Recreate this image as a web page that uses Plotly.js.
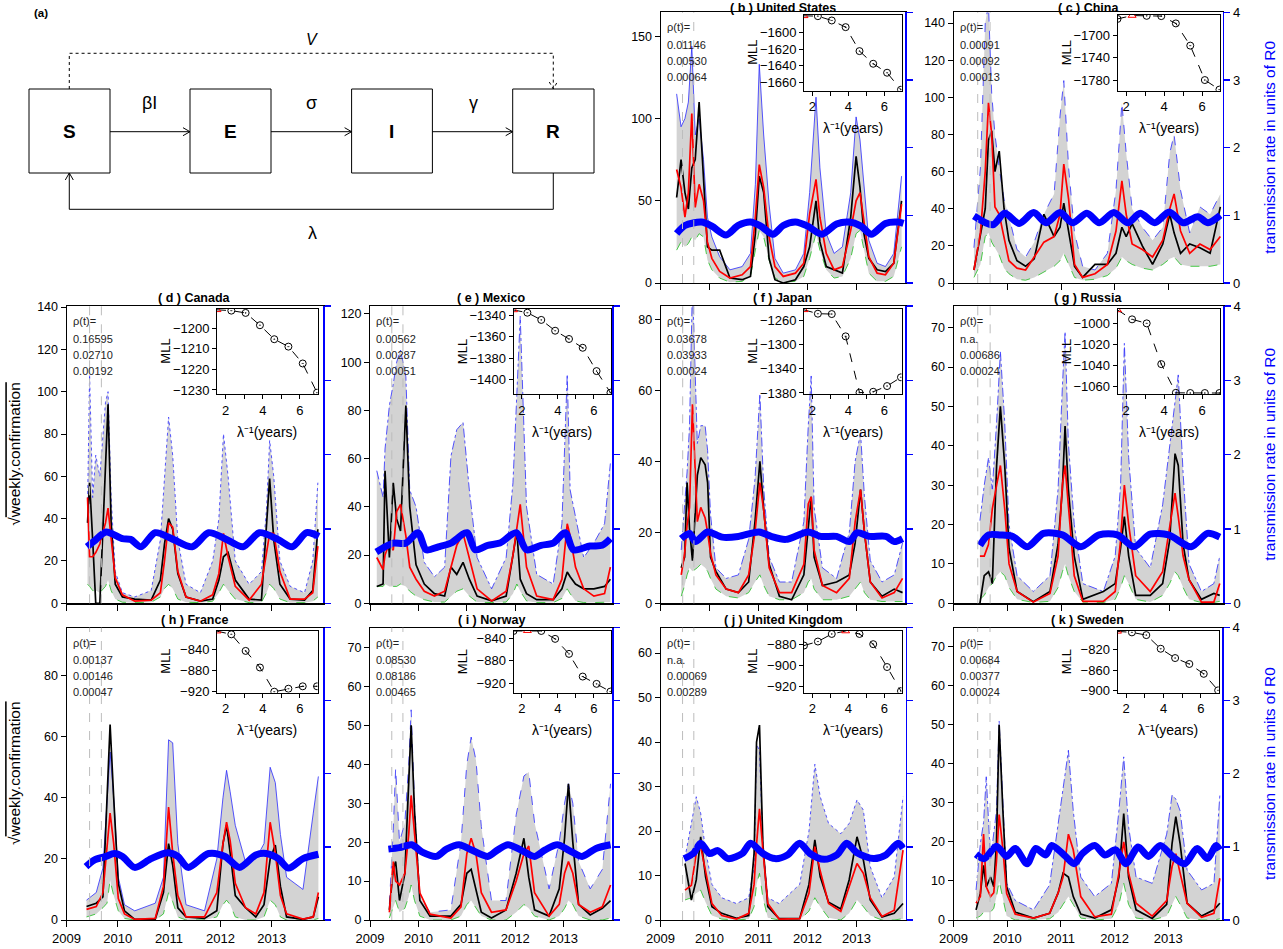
<!DOCTYPE html>
<html><head><meta charset="utf-8">
<script src="https://cdn.plot.ly/plotly-3.0.1.min.js"></script>
<style>html,body{margin:0;padding:0;background:#fff;}#chart{width:1283px;height:949px;}</style>
</head><body><div id="chart"></div>
<script>
// ---------------- DATA ----------------
const yearTicks = [2009, 2010, 2011, 2012, 2013];
const eventLines = [2009.45, 2009.68];
const lambdaInv = [1.54, 2.31, 3.08, 3.85, 4.62, 5.38, 6.15, 6.92];

// (b) United States
const tUS = [2009.33,2009.42,2009.50,2009.57,2009.64,2009.71,2009.79,2009.88,2009.96,2010.05,2010.21,2010.42,2010.67,2010.84,2010.94,2011.02,2011.11,2011.22,2011.34,2011.51,2011.76,2011.93,2012.05,2012.18,2012.26,2012.39,2012.55,2012.72,2012.89,2013.00,2013.08,2013.16,2013.26,2013.43,2013.60,2013.77,2013.93];
const obsUS = [52,75,55,45,70,75,110,62,22,20,20,3,2,4,30,65,55,15,2,0,2,10,22,50,25,10,8,6,40,77,58,30,15,8,7,12,50];
const medUS = [69,58,40,55,103,46,60,50,25,15,7,3,5,10,40,72,58,28,10,4,6,12,42,63,40,18,8,10,32,50,55,38,16,6,5,12,48];
const loUS = [20,25,22,24,28,26,30,28,14,8,3,0.5,1,4,20,32,28,14,3,0.5,1,4,15,30,20,8,3,4,15,30,32,20,6,1,1,4,22];
const hiUS = [115,95,100,110,144,90,100,75,40,28,16,8,10,18,60,133,90,48,15,6,8,18,55,113,70,30,18,22,55,101,87,60,26,12,10,18,65];
const tbUS = [2009.33,2009.50,2009.84,2010.05,2010.34,2010.59,2010.84,2011.05,2011.30,2011.51,2011.76,2012.01,2012.30,2012.60,2012.85,2013.10,2013.31,2013.60,2013.85,2013.97];
const betaUS = [0.73,0.85,0.9,0.84,0.71,0.85,0.9,0.84,0.72,0.85,0.9,0.84,0.72,0.87,0.9,0.84,0.72,0.88,0.9,0.88];
const mllUS = [-1580,-1580.4,-1585.6,-1593.6,-1622.4,-1637.6,-1648.4,-1668.8];
const rhoUS = ['0.01146','0.00530','0.00064'];

// (c) China
const tCN = [2009.38,2009.50,2009.59,2009.65,2009.71,2009.77,2009.85,2009.94,2010.03,2010.18,2010.34,2010.50,2010.68,2010.87,2010.98,2011.05,2011.14,2011.25,2011.40,2011.63,2011.86,2012.02,2012.13,2012.21,2012.32,2012.51,2012.70,2012.89,2013.02,2013.10,2013.22,2013.39,2013.58,2013.77,2013.96];
const obsCN = [7,27,40,77,82,60,71,40,23,12,9,13,37,25,30,43,27,9,3,10,10,16,30,25,32,20,10,21,37,27,16,21,19,16,41];
const medCN = [7,27,60,97,80,41,37,25,12,8,7,14,22,25,37,64,45,10,3,5,10,28,55,37,21,18,14,23,40,48,28,16,21,18,25];
const loCN = [3,10,25,27,22,19,15,8,5,2,1.5,3,6,9,12,16,10,3,1.5,2,4,8,14,12,10,8,7,10,13,14,10,9,9,9,10];
const hiCN = [19,62,140,150,102,80,62,45,36,18,14,22,37,48,90,109,62,27,9,7,16,50,97,70,40,30,23,30,70,80,50,27,41,37,48];
const tbCN = [2009.38,2009.73,2009.95,2010.22,2010.49,2010.72,2010.98,2011.21,2011.48,2011.71,2011.98,2012.24,2012.47,2012.74,2013.01,2013.27,2013.54,2013.73,2013.96];
const betaCN = [0.99,0.86,1.03,0.88,1.04,0.89,1.04,0.89,1.03,0.89,1.04,0.89,1.03,0.89,1.05,0.89,0.98,0.89,1.0];
const mllCN = [-1671,-1665,-1665.5,-1666,-1679,-1718.6,-1780,-1797];
const rhoCN = ['0.00091','0.00092','0.00013'];

// (d) Canada
const tCA = [2009.41,2009.45,2009.51,2009.57,2009.65,2009.76,2009.81,2009.87,2009.95,2010.09,2010.33,2010.65,2010.83,2010.91,2010.99,2011.07,2011.17,2011.33,2011.61,2011.85,2011.97,2012.06,2012.15,2012.29,2012.56,2012.80,2012.90,2012.96,2013.04,2013.16,2013.36,2013.64,2013.80,2013.90];
const obsCA = [38,57,30,0,0,60,94,38,9,3,2,1.5,11,28,40,35,14,3,1,2,11,22,24,11,2,1.5,38,59,30,9,2,1.5,6,35];
const medCA = [50,22,22,24,28,38,45,30,12,4,1,1.5,5,20,38,36,15,3,1,4,14,33,22,8,1.5,9,25,33,33,15,2,2,5,27];
const loCA = [9,8,6,6,5,8,11,6,2,0.5,0.3,0.5,3,7,9,7,2,0.5,0.3,1,5,9,6,2,0.3,0.5,5,9,7,2,0.3,0.3,1,3];
const hiCA = [46,108,50,70,60,95,100,50,15,5,3,6,30,60,88,70,30,9,5,20,40,80,60,20,9,15,45,77,60,20,8,5,20,57];
const tbCA = [2009.40,2009.53,2009.77,2010.09,2010.25,2010.45,2010.73,2011.05,2011.45,2011.77,2012.09,2012.44,2012.76,2013.12,2013.40,2013.68,2013.92];
const betaCA = [0.76,0.83,0.96,0.87,0.86,0.76,0.95,0.87,0.76,0.95,0.87,0.76,0.95,0.86,0.76,0.95,0.9];
const mllCA = [-1191,-1191.4,-1192.5,-1198.5,-1205.3,-1208.9,-1217.1,-1231.3];
const rhoCA = ['0.16595','0.02710','0.00192'];

// (e) Mexico
const tMX = [2009.14,2009.27,2009.31,2009.40,2009.48,2009.55,2009.63,2009.74,2009.82,2009.95,2010.12,2010.33,2010.54,2010.67,2010.79,2010.92,2011.05,2011.21,2011.51,2011.81,2011.95,2012.03,2012.10,2012.23,2012.44,2012.78,2012.96,2013.07,2013.13,2013.24,2013.41,2013.62,2013.84,2013.96];
const obsMX = [7,8,55,19,50,35,30,82,40,16,8,4,3,15,12,17,10,3,1,3,20,30,10,4,1.5,1.5,6,13,11,8,6,6,7,10];
const medMX = [19,14,20,25,22,38,41,28,15,10,5,3,5,15,24,29,19,6,1,5,20,32,41,15,3,1.5,10,33,28,15,6,3,4,15];
const loMX = [7,7,8,7,7,7,8,7,5,3,1.5,0.5,0.5,3,5,6,3,0.5,0.3,0.5,4,8,5,1,0.3,0.3,2,6,4,1,0.3,0.3,0.5,0.5];
const hiMX = [55,44,64,82,91,100,105,94,47,40,17,11,15,61,72,75,47,19,6,19,50,85,119,40,12,8,33,95,47,36,19,25,33,58];
const tbMX = [2009.13,2009.31,2009.48,2009.74,2009.99,2010.16,2010.41,2010.67,2011.0,2011.17,2011.43,2011.68,2012.02,2012.23,2012.53,2012.78,2013.03,2013.20,2013.54,2013.79,2013.96];
const betaMX = [0.69,0.76,0.81,0.81,0.95,0.72,0.76,0.81,0.95,0.72,0.78,0.81,0.95,0.72,0.78,0.81,0.95,0.72,0.77,0.78,0.87];
const mllMX = [-1334.6,-1337.2,-1344,-1354.2,-1362,-1370.3,-1392.3,-1412.7];
const rhoMX = ['0.00562','0.00287','0.00051'];

// (f) Japan
const tJP = [2009.42,2009.49,2009.54,2009.59,2009.65,2009.75,2009.82,2009.91,2009.96,2010.02,2010.13,2010.34,2010.59,2010.80,2010.93,2011.03,2011.11,2011.22,2011.43,2011.68,2011.93,2012.02,2012.08,2012.14,2012.31,2012.60,2012.86,2012.98,2013.09,2013.17,2013.29,2013.53,2013.78,2013.95];
const obsJP = [10,13,34,21,12,36,41,39,34,13,9,4,3,6,23,40,26,11,2,1,8,20,30,13,5,6,8,17,32,20,6,2,4,3];
const medJP = [8,14,22,27,56,23,27,24,20,14,8,4,3,8,20,34,26,10,3,3,11,28,30,15,5,3,7,23,32,20,6,1.5,3,7];
const loJP = [2,5,8,10,9,10,11,10,9,7,4,2,1.5,3,6,8,5,2,1,1,3,6,7,4,1,1,2,4,6,3,1,0.5,0.5,0.5];
const hiJP = [15,28,37,50,90,45,50,50,43,25,10,7,8,18,35,59,32,13,6,6,23,50,64,27,10,7,20,40,48,30,12,6,8,17];
const tbJP = [2009.42,2009.59,2009.71,2009.96,2010.26,2010.59,2011.01,2011.26,2011.56,2012.02,2012.27,2012.60,2012.86,2013.02,2013.27,2013.61,2013.78,2013.95];
const betaJP = [0.87,0.94,0.83,0.96,0.89,0.9,0.96,0.9,0.86,0.96,0.9,0.9,0.83,0.95,0.9,0.9,0.83,0.87];
const mllJP = [-1242,-1248.4,-1249,-1286,-1379.5,-1378,-1368.5,-1354];
const rhoJP = ['0.03678','0.03933','0.00024'];

// (g) Russia
const tRU = [2009.49,2009.57,2009.65,2009.72,2009.80,2009.87,2009.95,2010.03,2010.18,2010.48,2010.79,2010.94,2011.02,2011.07,2011.13,2011.24,2011.40,2011.78,2012.00,2012.10,2012.17,2012.25,2012.38,2012.65,2012.88,2013.01,2013.11,2013.17,2013.26,2013.37,2013.60,2013.83,2013.94];
const obsRU = [0,7,8,5,35,50,35,14,3,0.4,3,15,29,45,29,12,1,3,5,14,22,12,2,2,5,16,38,35,15,6,1,2.5,2];
const medRU = [12,12,15,24,30,35,24,10,3,0.3,2.5,12,30,35,25,7,0.5,0.5,3,16,30,20,7,3,8,20,28,22,12,6,0.3,0.3,5];
const loRU = [1,2,4,5,7,8,7,4,1,0.2,0.5,4,8,10,7,3,0.3,0.2,1,4,7,5,1,0.3,2,5,8,7,4,1,0.2,0.2,0.5];
const hiRU = [21,30,37,29,46,64,46,20,7,3,7,29,55,69,41,20,5,3,12,30,66,37,14,9,25,40,50,58,33,10,3,5,12];
const tbRU = [2009.49,2009.65,2009.87,2010.10,2010.37,2010.67,2011.02,2011.36,2011.70,2012.04,2012.35,2012.65,2012.99,2013.41,2013.71,2013.94];
const betaRU = [0.78,0.92,0.92,0.9,0.76,0.94,0.92,0.76,0.92,0.92,0.76,0.93,0.92,0.76,0.94,0.89];
const mllRU = [-987.3,-996.2,-1000,-1038.6,-1065.8,-1066,-1066,-1066];
const rhoRU = ['n.a.','0.00686','0.00024'];

// (h) France
const tFR = [2009.39,2009.58,2009.71,2009.79,2009.85,2009.92,2010.01,2010.13,2010.33,2010.73,2010.89,2010.99,2011.07,2011.17,2011.33,2011.69,2011.93,2012.05,2012.12,2012.19,2012.29,2012.49,2012.69,2012.85,2012.97,2013.07,2013.17,2013.29,2013.61,2013.81,2013.91];
const obsFR = [4.4,5.5,7.6,39,64,40,12,3,0.2,0.3,9,25,18,4,1,0.5,3,25,31,22,8,4,1,5,20,24.5,11,1,0.2,1,7.6];
const medFR = [3.5,4.4,9,25,35,25,7,2,0.2,0.5,11,37,22,8,1,1,9,25,32,26,12,4,2,9,32,22,8,2,0.3,1,9];
const loFR = [1,2,4,5.5,13,8,3,0.5,0,0,2,9,6,1,0,0,1,5,6.5,5,1,0,0,1,6.5,5,1,0,0,0,0.5];
const hiFR = [6.5,9,17,40,55,40,14,5,3,5.5,14,59,58,25,5,3,20,40,49,42,31,19,20,25,50,45,28,14,10,35,47];
const tbFR = [2009.38,2009.54,2009.77,2009.93,2010.09,2010.33,2010.65,2010.97,2011.17,2011.37,2011.77,2012.09,2012.37,2012.69,2012.89,2013.13,2013.33,2013.61,2013.91];
const betaFR = [0.73,0.82,0.87,0.91,0.87,0.72,0.84,0.92,0.87,0.72,0.91,0.87,0.72,0.89,0.91,0.84,0.71,0.84,0.9];
const mllFR = [-806,-812,-843.6,-875.2,-921.3,-915.6,-911,-911];
const rhoFR = ['0.00137','0.00146','0.00047'];

// (i) Norway
const tNO = [2009.40,2009.48,2009.53,2009.61,2009.72,2009.80,2009.85,2009.92,2010.03,2010.24,2010.67,2010.88,2011.00,2011.09,2011.19,2011.30,2011.51,2011.81,2012.02,2012.18,2012.28,2012.40,2012.70,2012.91,2013.02,2013.10,2013.19,2013.31,2013.55,2013.80,2013.97];
const obsNO = [2.6,13,15,5,12,37,50,28,5,1,1,4,12,13,8,2,0.5,2.6,12,21,11,2.6,1,8,21,35,20,4,1.3,3,5];
const medNO = [2,15,10,9,12,22,32,22,7,1.5,0.5,3.4,17,21,17,7,2,2.6,10,17,19,7,1,4,12,15,12,4,2,3.4,9];
const loNO = [0.5,3,5,2,3,6,9,5,1,0,0,1,4,5,3,1,0,0,2,4,3,1,0,1,3,5,4,1,0,0,0.5];
const hiNO = [4,23,39,20,25,40,54,30,6,2,2.6,20,40,47,41,24,5,5,27,37,38,25,8,20,30,35,30,15,8,13,35];
const tbNO = [2009.38,2009.61,2009.86,2010.08,2010.37,2010.58,2010.84,2011.09,2011.43,2011.64,2011.85,2012.11,2012.40,2012.62,2012.87,2013.12,2013.38,2013.67,2013.97];
const betaNO = [0.97,0.99,1.03,0.93,0.87,0.97,1.03,0.96,0.87,0.96,1.03,0.96,0.87,0.96,1.03,0.95,0.87,0.98,1.03];
const mllNO = [-827,-826.5,-827,-841,-867.7,-908,-921,-934.7];
const rhoNO = ['0.08530','0.08186','0.00465'];

// (j) United Kingdom
const tUK = [2009.50,2009.63,2009.73,2009.82,2009.92,2010.05,2010.25,2010.55,2010.80,2010.91,2010.96,2011.02,2011.09,2011.19,2011.42,2011.84,2012.03,2012.15,2012.26,2012.43,2012.68,2012.85,2013.01,2013.14,2013.28,2013.52,2013.77,2013.95];
const obsUK = [12.7,4.5,9,18.7,9.7,3,1.5,0.4,1,15,40,43.8,17,3,0.3,0.3,8,18,9.7,4,2.5,9,18.7,13.5,4.5,0.7,1.5,3.7];
const medUK = [6.7,7.8,15,16.5,11,3.7,1,0.2,1.5,8,17,25,15.7,3.7,0.2,0.3,6,16.5,11,3.7,1.9,7.5,12.7,10.5,5,0.8,2.2,15.7];
const loUK = [4.5,5,6,6.7,4,1,0.2,0,0.2,3,8,10.5,5,0.5,0,0,2,5,3,0.5,0,1.5,4.5,3,1,0,0,0.3];
const hiUK = [14,21.7,27.7,24,15.7,8,5,3.7,5,12,39.6,38,17,5,3.7,8,20,35,27.7,21.7,19.4,21.7,27,24.7,12,5,9.7,27.7];
const tbUK = [2009.48,2009.67,2009.82,2010.00,2010.17,2010.38,2010.67,2010.84,2011.09,2011.34,2011.59,2011.84,2012.05,2012.34,2012.60,2012.80,2013.01,2013.35,2013.60,2013.85,2013.95];
const betaUK = [0.84,0.91,1.05,0.91,0.95,0.84,0.91,1.05,0.91,0.84,0.89,1.05,0.91,0.83,0.89,1.05,0.92,0.84,0.89,1.05,0.98];
const mllUK = [-881.3,-877.5,-870.3,-867.5,-870.3,-880,-901.7,-924.6];
const rhoUK = ['n.a.','0.00069','0.00289'];

// (k) Sweden
const tSE = [2009.42,2009.50,2009.56,2009.61,2009.69,2009.75,2009.80,2009.85,2009.92,2009.99,2010.15,2010.49,2010.79,2010.95,2011.04,2011.14,2011.23,2011.37,2011.63,2011.94,2012.08,2012.17,2012.26,2012.40,2012.70,2012.97,2013.07,2013.14,2013.22,2013.35,2013.62,2013.85,2013.96];
const obsSE = [2.6,6.8,14,8.5,11,8.5,19.6,50,28,8.5,2,0.5,1.7,7,12,11,6,1.5,0.5,2.6,11,27.3,11,2.6,0.4,4,19.6,26.5,19.6,4.3,1,2.6,4.3];
const medSE = [4.3,6,22,8.5,6,7,15,27,18,6.8,1.5,0.5,1.7,7,11,22,18,6,0.8,1.5,12,20,12,4.3,1,5,13.7,17,12,4.3,0.7,1.7,10.7];
const loSE = [0.5,1,2,2,2,3,6,10,5,1,0,0,0.3,2,4,6,4,0.5,0,0.3,4,9.4,4,0.5,0,1,4,6,4,0.5,0,0,0.3];
const hiSE = [7.7,19.6,25,36.7,15.4,22,28,51,32,9.4,5,2.6,9,25,33,43.5,28,11,6,9.4,28,41.8,24,11,9.4,22,32,31,28,12.8,7.7,9.4,32];
const tbSE = [2009.42,2009.57,2009.80,2009.99,2010.15,2010.37,2010.53,2010.72,2010.83,2011.06,2011.25,2011.40,2011.63,2011.82,2012.02,2012.21,2012.44,2012.63,2012.85,2013.08,2013.31,2013.54,2013.73,2013.89,2013.96];
const betaSE = [0.9,0.84,1.01,0.87,0.98,0.77,0.98,0.89,1.02,0.89,0.77,0.91,1.02,0.89,0.96,0.77,1.0,0.87,1.02,0.87,0.77,0.98,0.84,1.02,0.96];
const mllSE = [-784,-786,-791.3,-818,-836.2,-847.8,-867.1,-899.4];
const rhoSE = ['0.00684','0.00377','0.00024'];

// ---------------- LAYOUT / GEOMETRY ----------------
const W = 1283, H = 949;
const FONT = 'Liberation Sans, Arial, Helvetica, sans-serif';
const fx = p => p / W;
const fy = p => 1 - p / H;
const axName = (l, n) => l + 'axis' + (n === 1 ? '' : n);
const axRef = (l, n) => l + (n === 1 ? '' : n);
const seq = (a, b, s) => { const r = []; for (let v = a; v <= b + 1e-9; v += s) r.push(v); return r; };

const panels = [
  {name:'( b ) United States', t:tUS, obs:obsUS, med:medUS, lo:loUS, hi:hiUS, tb:tbUS, beta:betaUS, mll:mllUS, rho:rhoUS,
   box:[660.5,905,12.3,283], ymax:164.6, yt:seq(0,150,50), ins:[804,901.5,15,90.7], iyr:[-1670,-1579], iyt:[-1600,-1620,-1640,-1660], rlab:false, xlab:false, dash:'solid'},
  {name:'( c ) China', t:tCN, obs:obsCN, med:medCN, lo:loCN, hi:hiCN, tb:tbCN, beta:betaCN, mll:mllCN, rho:rhoCN,
   box:[953.5,1222.5,12.3,283], ymax:145.8, yt:seq(0,140,20), ins:[1117.5,1220,15,90.7], iyr:[-1799,-1664], iyt:[-1700,-1740,-1780], rlab:true, xlab:false, dash:'dash'},
  {name:'( d ) Canada', t:tCA, obs:obsCA, med:medCA, lo:loCA, hi:hiCA, tb:tbCA, beta:betaCA, mll:mllCA, rho:rhoCA,
   box:[66.5,323,306,603.3], ymax:140.5, yt:seq(0,140,20), ins:[217,317.6,309,394.3], iyr:[-1232.1,-1190.6], iyt:[-1200,-1210,-1220,-1230], rlab:false, xlab:false, dash:'dot'},
  {name:'( e ) Mexico', t:tMX, obs:obsMX, med:medMX, lo:loMX, hi:hiMX, tb:tbMX, beta:betaMX, mll:mllMX, rho:rhoMX,
   box:[370,612.3,306,603.3], ymax:123.3, yt:seq(0,120,20), ins:[513.5,611,309,394.3], iyr:[-1414.2,-1333.7], iyt:[-1340,-1360,-1380,-1400], rlab:false, xlab:false, dash:'dashdot'},
  {name:'( f ) Japan', t:tJP, obs:obsJP, med:medJP, lo:loJP, hi:hiJP, tb:tbJP, beta:betaJP, mll:mllJP, rho:rhoJP,
   box:[660.7,905,306,603.3], ymax:83.7, yt:seq(0,80,20), ins:[804,901.5,309,394.3], iyr:[-1382.2,-1240.6], iyt:[-1260,-1300,-1340,-1380], rlab:false, xlab:false, dash:'dashdot'},
  {name:'( g ) Russia', t:tRU, obs:obsRU, med:medRU, lo:loRU, hi:hiRU, tb:tbRU, beta:betaRU, mll:mllRU, rho:rhoRU,
   box:[953.5,1223,306,603.3], ymax:75.5, yt:seq(0,70,10), ins:[1117.5,1220,309,394.3], iyr:[-1067.2,-986.4], iyt:[-1000,-1020,-1040,-1060], rlab:true, xlab:false, dash:'dashdot'},
  {name:'( h ) France', t:tFR, obs:obsFR, med:medFR, lo:loFR, hi:hiFR, tb:tbFR, beta:betaFR, mll:mllFR, rho:rhoFR,
   box:[66.5,323,627.7,920], ymax:95.7, yt:seq(0,80,20), ins:[217,317.6,630.7,692.7], iyr:[-923.2,-805.1], iyt:[-840,-880,-920], rlab:false, xlab:true, dash:'solid'},
  {name:'( i ) Norway', t:tNO, obs:obsNO, med:medNO, lo:loNO, hi:hiNO, tb:tbNO, beta:betaNO, mll:mllNO, rho:rhoNO,
   box:[370,612,627.7,920], ymax:75.1, yt:seq(0,70,10), ins:[513.5,611,630.7,692.7], iyr:[-936.7,-826.5], iyt:[-840,-880,-920], rlab:false, xlab:true, dash:'dash'},
  {name:'( j ) United Kingdom', t:tUK, obs:obsUK, med:medUK, lo:loUK, hi:hiUK, tb:tbUK, beta:betaUK, mll:mllUK, rho:rhoUK,
   box:[660.5,905.5,627.7,920], ymax:65.7, yt:seq(0,60,10), ins:[804,901.5,630.7,692.7], iyr:[-926.1,-867.2], iyt:[-880,-900,-920], rlab:false, xlab:true, dash:'dot'},
  {name:'( k ) Sweden', t:tSE, obs:obsSE, med:medSE, lo:loSE, hi:hiSE, tb:tbSE, beta:betaSE, mll:mllSE, rho:rhoSE,
   box:[953.5,1222,627.7,920], ymax:74.9, yt:seq(0,70,10), ins:[1117.5,1218.7,630.7,692.7], iyr:[-904,-782.7], iyt:[-820,-860,-900], rlab:true, xlab:true, dash:'dashdot'}
];

const data = [];
const shapes = [];
const ann = [];
const layout = {
  width: W, height: H,
  margin: {l:0, r:0, t:0, b:0, autoexpand:false},
  paper_bgcolor: '#fff', plot_bgcolor: 'rgba(0,0,0,0)',
  showlegend: false, hovermode: false,
  font: {family: FONT, size: 12.5, color: '#000'}
};

panels.forEach((P, i) => {
  const xm = 2*i+1, xi = 2*i+2, ym = 3*i+1, yb = 3*i+2, yi = 3*i+3;
  const [L, R, T, B] = P.box;
  const [iL, iR, iT, iB] = P.ins;
  layout[axName('x', xm)] = {domain:[fx(L), fx(R)], range:[2009, 2014], anchor:axRef('y', ym),
    tickvals:yearTicks, showticklabels:P.xlab, ticks:'outside', ticklen:6, tickcolor:'#000',
    showline:true, mirror:true, linecolor:'#000', linewidth:1.2, showgrid:false, zeroline:false,
    tickfont:{size:13}};
  layout[axName('y', ym)] = {domain:[fy(B), fy(T)], range:[0, P.ymax], anchor:axRef('x', xm),
    tickvals:P.yt, ticks:'outside', ticklen:5, tickcolor:'#000', showline:true, mirror:false,
    linecolor:'#000', linewidth:1, showgrid:false, zeroline:false, tickfont:{size:12.5}};
  layout[axName('y', yb)] = {overlaying:axRef('y', ym), side:'right', anchor:axRef('x', xm), range:[0, 4],
    tickvals:[0,1,2,3,4], showticklabels:P.rlab, ticks:'outside', ticklen:6, tickcolor:'#0000FF', tickwidth:1.2,
    showline:true, linecolor:'#0000FF', linewidth:1.8, showgrid:false, zeroline:false, tickfont:{size:13}};
  layout[axName('x', xi)] = {domain:[fx(iL), fx(iR)], range:[1.54, 6.95], anchor:axRef('y', yi),
    tickvals:[2,4,6], ticks:'outside', ticklen:4, tickcolor:'#000',
    minor:{tickvals:[3,5], ticks:'outside', ticklen:4, tickcolor:'#000', showgrid:false},
    showline:true, mirror:true, linecolor:'#000', linewidth:1, showgrid:false, zeroline:false, tickfont:{size:13}};
  layout[axName('y', yi)] = {domain:[fy(iB), fy(iT)], range:P.iyr, anchor:axRef('x', xi),
    tickvals:P.iyt, ticktext:P.iyt.map(v => '\u2212' + Math.abs(v)), ticks:'outside', ticklen:4, tickcolor:'#000',
    showline:true, mirror:true, linecolor:'#000', linewidth:1, showgrid:false, zeroline:false, tickfont:{size:13}};

  const xr = axRef('x', xm), yr = axRef('y', ym);
  data.push({x:P.t, y:P.lo, xaxis:xr, yaxis:yr, mode:'lines', line:{color:'#1FBF1F', width:0.8, dash:'dash'}, hoverinfo:'skip'});
  data.push({x:P.t, y:P.hi, xaxis:xr, yaxis:yr, mode:'lines', fill:'tonexty', fillcolor:'#D3D3D3',
    line:{color:'#2B2BFF', width:0.8, dash:P.dash}, hoverinfo:'skip'});
  data.push({x:P.t, y:P.obs, xaxis:xr, yaxis:yr, mode:'lines', line:{color:'#000', width:1.7}, hoverinfo:'skip'});
  data.push({x:P.t, y:P.med, xaxis:xr, yaxis:yr, mode:'lines', line:{color:'#FF0000', width:1.7}, hoverinfo:'skip'});
  data.push({x:P.tb, y:P.beta, xaxis:xr, yaxis:axRef('y', yb), mode:'lines',
    line:{color:'#0000FF', width:7, shape:'spline', smoothing:0.8}, hoverinfo:'skip'});

  let best = 0;
  P.mll.forEach((v, k) => { if (v > P.mll[best]) best = k; });
  data.push({x:lambdaInv, y:P.mll, xaxis:axRef('x', xi), yaxis:axRef('y', yi), mode:'lines',
    line:{color:'#000', width:1, dash:'dash'}, hoverinfo:'skip'});
  data.push({x:lambdaInv, y:P.mll, xaxis:axRef('x', xi), yaxis:axRef('y', yi), mode:'markers',
    marker:{symbol:P.mll.map((v,k) => k === best ? 'triangle-up-open' : 'circle-open-dot'),
            color:P.mll.map((v,k) => k === best ? '#FF0000' : '#000'), size:7, line:{width:1}},
    hoverinfo:'skip'});

  eventLines.forEach(v => shapes.push({type:'line', xref:xr, yref:yr + ' domain', x0:v, x1:v, y0:0, y1:1,
    line:{color:'#BDBDBD', width:1, dash:'dash'}, layer:'above'}));

  const titleTop = Math.max(T - 15.5, 0);
  ann.push({text:'<b>' + P.name + '</b>', xref:'paper', yref:'paper', x:fx((L+R)/2), y:fy(titleTop),
    xanchor:'center', yanchor:'top', showarrow:false, borderpad:0, font:{size:12.5, color:'#000'}});
  const rhoLines = ['\u03c1(t)='].concat(P.rho);
  [15, 32.5, 48.5, 64.5].forEach((dy, k) => ann.push({text:rhoLines[k], xref:'paper', yref:'paper',
    x:fx(L + 4), y:fy(T + dy), xanchor:'left', yanchor:'middle', showarrow:false, font:{size:11, color:'#222'}}));
  ann.push({text:'MLL', xref:'paper', yref:'paper', x:fx(iL - 51), y:fy((iT+iB)/2), textangle:-90,
    xanchor:'center', yanchor:'middle', showarrow:false, font:{size:13}});
  ann.push({text:'\u03bb\u207b\u00b9(years)', xref:'paper', yref:'paper', x:fx((iL+iR)/2), y:fy(iB + 37.5),
    xanchor:'center', yanchor:'middle', showarrow:false, font:{size:14}});
});

const sqrtTitle = '\u221a<span style="text-decoration:overline">weekly.confirmation</span>';
[454.7, 773.9].forEach(yc => ann.push({text:sqrtTitle, xref:'paper', yref:'paper', x:fx(15), y:fy(yc),
  textangle:-90, xanchor:'center', yanchor:'middle', showarrow:false, font:{size:15.5}}));
[147.7, 454.7, 773.9].forEach(yc => ann.push({text:'transmission rate in units of R0', xref:'paper', yref:'paper',
  x:fx(1270), y:fy(yc), textangle:-90, xanchor:'center', yanchor:'middle', showarrow:false,
  font:{size:15.5, color:'#0000FF'}}));

// ---------------- panel (a): SEIR diagram ----------------
const pt = (x, y) => fx(x).toFixed(5) + ',' + fy(y).toFixed(5);
const boxes = [['S',29,110],['E',190,271],['I',351.6,432.4],['R',512.7,594]];
const bTop = 89, bBot = 173, yMid = 131.7;
boxes.forEach(([lab, x0, x1]) => {
  shapes.push({type:'rect', xref:'paper', yref:'paper', x0:fx(x0), x1:fx(x1), y0:fy(bBot), y1:fy(bTop),
    line:{color:'#000', width:1}});
  ann.push({text:'<b>' + lab + '</b>', xref:'paper', yref:'paper', x:fx((x0+x1)/2), y:fy(yMid),
    xanchor:'center', yanchor:'middle', showarrow:false, font:{size:19}});
});
for (let k = 0; k < 3; k++) {
  const xa = boxes[k][2], xb = boxes[k+1][1];
  shapes.push({type:'path', xref:'paper', yref:'paper',
    path:'M' + pt(xa, yMid) + 'L' + pt(xb, yMid) + 'M' + pt(xb-7, yMid-4) + 'L' + pt(xb, yMid) + 'L' + pt(xb-7, yMid+4),
    line:{color:'#000', width:1}});
}
const sX = 69.3, rX = 553.3;
shapes.push({type:'path', xref:'paper', yref:'paper',
  path:'M' + pt(sX, bTop) + 'L' + pt(sX, 53.3) + 'L' + pt(rX, 53.3) + 'L' + pt(rX, bTop) +
       'M' + pt(rX-4, bTop-7) + 'L' + pt(rX, bTop) + 'L' + pt(rX+4, bTop-7),
  line:{color:'#000', width:1, dash:'dot'}});
shapes.push({type:'path', xref:'paper', yref:'paper',
  path:'M' + pt(rX, bBot) + 'L' + pt(rX, 209.3) + 'L' + pt(sX, 209.3) + 'L' + pt(sX, bBot) +
       'M' + pt(sX-4, bBot+7) + 'L' + pt(sX, bBot) + 'L' + pt(sX+4, bBot+7),
  line:{color:'#000', width:1}});
[['\u03b2I',149.6,102.7],['\u03c3',311.5,102.7],['\u03b3',473.4,102.7],['\u03bb',312,233.3]].forEach(([t,x,y]) =>
  ann.push({text:t, xref:'paper', yref:'paper', x:fx(x), y:fy(y), xanchor:'center', yanchor:'middle',
    showarrow:false, font:{size:18}}));
ann.push({text:'<i>V</i>', xref:'paper', yref:'paper', x:fx(312.3), y:fy(39.3), xanchor:'center', yanchor:'middle',
  showarrow:false, font:{size:16}});
ann.push({text:'<b>(a)</b>', xref:'paper', yref:'paper', x:fx(41), y:fy(13.3), xanchor:'center', yanchor:'middle',
  showarrow:false, font:{size:11.5}});

layout.shapes = shapes;
layout.annotations = ann;
Plotly.newPlot('chart', data, layout, {displayModeBar:false, staticPlot:true});
</script>
</body></html>
